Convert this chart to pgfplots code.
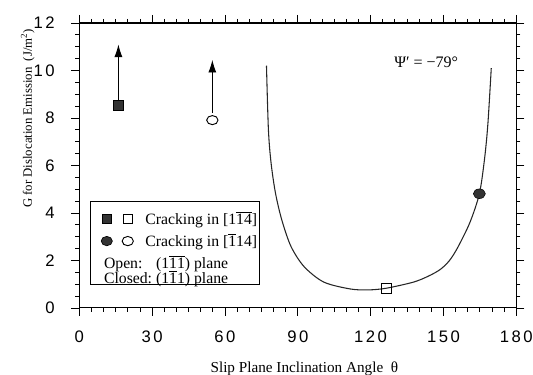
\documentclass[border=0pt]{standalone}
\usepackage{fontspec}
\setmainfont{Liberation Serif}
\newfontfamily\tickfont{Liberation Sans}[LetterSpace=15]
\usepackage{pgfplots}
\pgfplotsset{compat=1.18}
\usetikzlibrary{arrows.meta}
\newcommand{\ob}[1]{\ensuremath{\overline{\mbox{#1}}}}
\begin{document}
\begin{tikzpicture}
\useasboundingbox (-59.5pt,-50.25pt) rectangle (340.3pt,231pt);
\begin{axis}[
  at={(0,0)}, anchor=south west,
  scale only axis, width=327.75pt, height=213.75pt,
  xmin=0, xmax=180, ymin=0, ymax=12,
  xtick={0,30,...,180}, ytick={0,2,...,12},
  minor x tick num=5, minor y tick num=3,
  tick align=outside,
  major tick length=6pt, minor tick length=3pt,
  every tick/.style={black, line width=0.6pt},
  axis line style={line width=0.8pt},
  /pgf/number format/assume math mode=true,
  ticklabel style={font=\tickfont\fontsize{12.5}{14}\selectfont},
  xticklabel style={yshift=-8pt},
  yticklabel style={xshift=-9pt},
  xlabel={Slip Plane Inclination Angle\ \ θ},
  xlabel style={font=\fontsize{11.4}{13}\selectfont, at={(axis description cs:0.515,-0.215)}, anchor=center},
  ylabel={G for Dislocation Emission\ \ (J/m\textsuperscript{2})},
  ylabel style={font=\fontsize{9.6}{11}\selectfont, at={(axis description cs:-0.118,0.665)}, anchor=center, rotate=0},
  clip=false,
  legend style={at={(axis description cs:0.025,0.079)}, anchor=south west, draw=black, line width=0.9pt,
    inner xsep=0pt, inner ysep=5pt, font=\fontsize{11.8}{13}\selectfont, cells={anchor=west}, row sep=1.5pt},
]
% curve
\addplot[smooth, line width=0.8pt, black!85, forget plot] coordinates {
 (77.1,10.2) (77.9,7.5) (79.0,6.1) (80.8,4.84) (83.4,3.71) (87.2,2.59) (92.6,1.74)
 (100.7,1.09) (111.6,0.80) (119,0.76) (126.4,0.83) (137.7,1.09) (144,1.35) (148.8,1.63) (152.5,2.0)
 (155.9,2.55) (160.9,3.6) (164.8,4.81) (166.9,6.25) (168.3,7.74) (169.7,10.1)};
% arrows
\addplot[line width=0.7pt, black, -{Latex[length=9.5pt,width=6pt]}, forget plot] coordinates {(16.1,8.54) (16.1,11.1)};
\addplot[line width=0.7pt, black, -{Latex[length=9.5pt,width=6pt]}, forget plot] coordinates {(54.8,8.2) (54.8,10.45)};
% markers
\addplot[only marks, mark=square*, mark size=4pt, mark options={fill=black!80, draw=black}, forget plot] coordinates {(16.1,8.54)};
\addplot[only marks, mark=o, mark size=3.4pt, mark options={fill=white, draw=black, line width=0.7pt, xscale=1.25}, forget plot] coordinates {(54.8,7.91)};
\addplot[only marks, mark=square, mark size=3.8pt, mark options={fill=white, draw=black, line width=0.7pt}, forget plot] coordinates {(126.4,0.83)};
\addplot[only marks, mark=*, mark size=3.6pt, mark options={fill=black!80, draw=black, xscale=1.25}, forget plot] coordinates {(164.8,4.81)};
% legend
\addlegendimage{legend image code/.code={
  \path (-8pt,0pt) (30pt,0pt);
  \draw[line width=0.5pt, fill=black!80] (0pt,-3.5pt) rectangle (7pt,3.5pt);
  \draw[line width=0.7pt, fill=white] (15.75pt,-3.5pt) rectangle (22.75pt,3.5pt);}}
\addlegendentry{Cracking in [1\ob{1}\ob{4}]}
\addlegendimage{legend image code/.code={
  \path (-8pt,0pt) (30pt,0pt);
  \draw[line width=0.5pt, fill=black!80] (3.5pt,0pt) ellipse [x radius=4.2pt, y radius=3.5pt];
  \draw[line width=0.7pt, fill=white] (19.25pt,0pt) ellipse [x radius=4.2pt, y radius=3.5pt];}}
\addlegendentry{Cracking in [\ob{1}14]}
\addlegendimage{empty legend}
\addlegendentry{\hspace*{-31pt}\raisebox{-2pt}{\begin{tabular}{@{}l@{\ }l@{}}Open: & (1\ob{1}\ob{1}) plane\\[-3pt] Closed: & (1\ob{1}1) plane\end{tabular}}}
\node[font=\fontsize{12}{14}\selectfont] at (axis description cs:0.794,0.862) {Ψ′ = −79°};
\end{axis}
\end{tikzpicture}
\end{document}
